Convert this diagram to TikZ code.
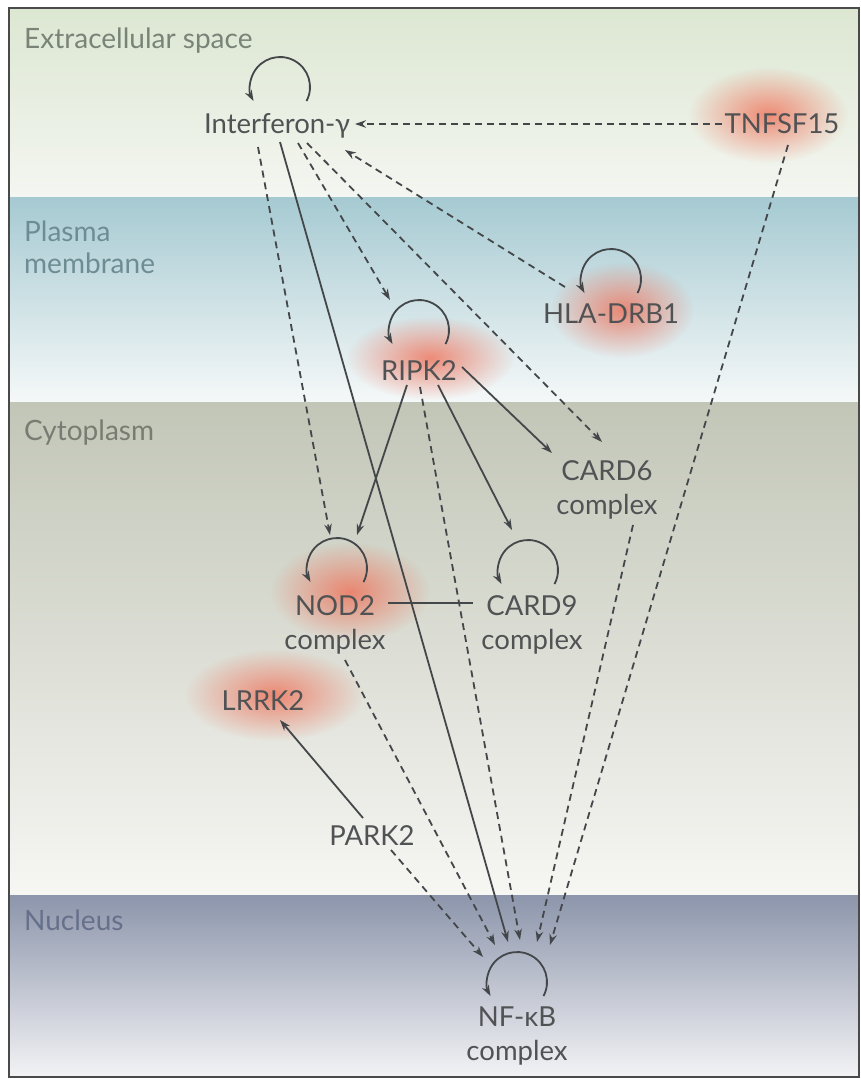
\documentclass[tikz,border=0pt]{standalone}
\usepackage{fontspec}
\setmainfont{Lato}
\usetikzlibrary{arrows.meta,fadings}
\tikzfading[name=glowfade, inner color=transparent!25, outer color=transparent!100]
\definecolor{txt}{HTML}{505254}
\definecolor{ln}{HTML}{44474A}
\definecolor{glowred}{HTML}{F06A50}
\definecolor{ecA}{HTML}{DCE7D2}
\definecolor{ecB}{HTML}{F4F6F1}
\definecolor{pmA}{HTML}{A6CAD2}
\definecolor{pmM}{HTML}{C2DCE0}
\definecolor{pmB}{HTML}{F5F8F8}
\definecolor{cyA}{HTML}{C2C6B7}
\definecolor{cyM}{HTML}{D1D4C8}
\definecolor{cyB}{HTML}{F6F6F3}
\definecolor{nuA}{HTML}{8C95AB}
\definecolor{nuM}{HTML}{BCC1CD}
\definecolor{nuB}{HTML}{F3F3F5}
\definecolor{lblec}{HTML}{7A8378}
\definecolor{lblpm}{HTML}{6E8C94}
\definecolor{lblcy}{HTML}{787C72}
\definecolor{lblnu}{HTML}{66708A}
\definecolor{framecol}{HTML}{4A4A4A}
\begin{document}
\begin{tikzpicture}[x=1pt,y=-1pt,
  nd/.style={font=\fontsize{27.5}{34}\selectfont, text=txt, inner sep=0pt},
  ndtwo/.style={nd, align=center, anchor=north},
  bl/.style={font=\fontsize{28}{32}\selectfont, inner sep=0pt},
  conn/.style={draw=ln, line width=1.8pt},
  sarrow/.style={conn, -{Stealth[length=11pt,width=7.5pt]}},
  darrow/.style={conn, dash pattern=on 7pt off 5pt, -{Stealth[length=11pt,width=7.5pt]}},
  selfloop/.style={conn, -{Stealth[length=11pt,width=7.5pt]}},
  glow/.style={fill=glowred, path fading=glowfade}
]
\useasboundingbox (0,0) rectangle (861,1079);
\fill[white] (0,0) rectangle (861,1079);
% bands
\shade[top color=ecA, bottom color=ecB] (9,8) rectangle (859,197);
\shade[top color=pmA, middle color=pmM, bottom color=pmB] (9,197) rectangle (859,402);
\shade[top color=cyA, middle color=cyM, bottom color=cyB] (9,402) rectangle (859,895);
\shade[top color=nuA, middle color=nuM, bottom color=nuB] (9,895) rectangle (859,1077);
\draw[framecol, line width=1.5pt] (9,8) rectangle (859,1077);
% band labels
\node[bl, text=lblec, anchor=base west] (ec) at (24,48) {Extracellular space};
\node[bl, text=lblpm, align=left, anchor=north west] (pm) at (24,221) {Plasma\\membrane};
\node[bl, text=lblcy, anchor=base west] (cy) at (24,440) {Cytoplasm};
\node[bl, text=lblnu, anchor=base west] (nu) at (24,930) {Nucleus};
% glows
\path[glow] (768,115) ellipse [x radius=80, y radius=48];
\path[glow] (622,310) ellipse [x radius=72, y radius=48];
\path[glow] (430,358) ellipse [x radius=84, y radius=42];
\path[glow] (350,592) ellipse [x radius=80, y radius=50];
\path[glow] (274,695) ellipse [x radius=90, y radius=46];
% nodes
\node[nd, anchor=base] (ifn) at (277,133) {Interferon-γ};
\node[nd, anchor=base] (tnf) at (782,133) {TNFSF15};
\node[nd, anchor=base] (hla) at (611,323) {HLA-DRB1};
\node[nd, anchor=base] (ripk) at (419,380) {RIPK2};
\node[ndtwo] (card6) at (607,460) {CARD6\\complex};
\node[ndtwo] (nod2) at (335,595) {NOD2\\complex};
\node[ndtwo] (card9) at (532,595) {CARD9\\complex};
\node[nd, anchor=base] (lrrk) at (263,710) {LRRK2};
\node[nd, anchor=base] (park) at (372,845) {PARK2};
\node[ndtwo] (nfkb) at (517,1007) {NF-κB\\complex};
% connector end points
\coordinate (tnfW) at (722,124);
\coordinate (ifnE) at (355,124);
\coordinate (ifnA) at (258,147);
\coordinate (ifnB) at (280,142);
\coordinate (ifnC) at (298,143);
\coordinate (ifnD) at (307,143);
\coordinate (ifnH) at (345,150);
\coordinate (hlaW) at (565,287);
\coordinate (tnfS) at (788,145);
\coordinate (ripkA) at (407,385);
\coordinate (ripkB) at (420,387);
\coordinate (ripkC) at (438,385);
\coordinate (ripkD) at (462,367);
\coordinate (ripkT) at (390,300);
\coordinate (nodTl) at (330,535);
\coordinate (nodTr) at (357,535);
\coordinate (nodE) at (388,603);
\coordinate (nodS) at (345,660);
\coordinate (card9T) at (512,530);
\coordinate (card9W) at (473,603);
\coordinate (card6Tl) at (552,453);
\coordinate (card6Tr) at (602,442);
\coordinate (card6S) at (633,525);
\coordinate (parkN) at (363,818);
\coordinate (parkS) at (391,850);
\coordinate (lrrkS) at (280,720);
\coordinate (nf1) at (483,957);
\coordinate (nf2) at (495,945);
\coordinate (nf3) at (508,942);
\coordinate (nf4) at (520,940);
\coordinate (nf5) at (537,942);
\coordinate (nf6) at (550,945);
% self loops (centres)
\coordinate (ifnL) at (280,87);
\coordinate (hlaL) at (611,279);
\coordinate (ripkL) at (419,330);
\coordinate (nodL) at (337,568);
\coordinate (card9L) at (528,570);
\coordinate (nfL) at (517,982);
\foreach \c in {ifnL,hlaL,ripkL,nodL,card9L,nfL}
  \draw[selfloop] (\c) ++(28:30) arc[start angle=28, end angle=-208, radius=30];
% connectors
\draw[darrow] (tnfW) -- (ifnE);
\draw[darrow] (ifnA) -- (nodTl);
\draw[sarrow] (ifnB) -- (nf3);
\draw[darrow] (ifnC) -- (ripkT);
\draw[darrow] (ifnD) -- (card6Tr);
\draw[darrow] (hlaW) -- (ifnH);
\draw[darrow] (tnfS) -- (nf6);
\draw[sarrow] (ripkA) -- (nodTr);
\draw[darrow] (ripkB) -- (nf4);
\draw[sarrow] (ripkC) -- (card9T);
\draw[sarrow] (ripkD) -- (card6Tl);
\draw[conn] (nodE) -- (card9W);
\draw[darrow] (card6S) -- (nf5);
\draw[darrow] (nodS) -- (nf2);
\draw[darrow] (parkS) -- (nf1);
\draw[sarrow] (parkN) -- (lrrkS);
\end{tikzpicture}
\end{document}
